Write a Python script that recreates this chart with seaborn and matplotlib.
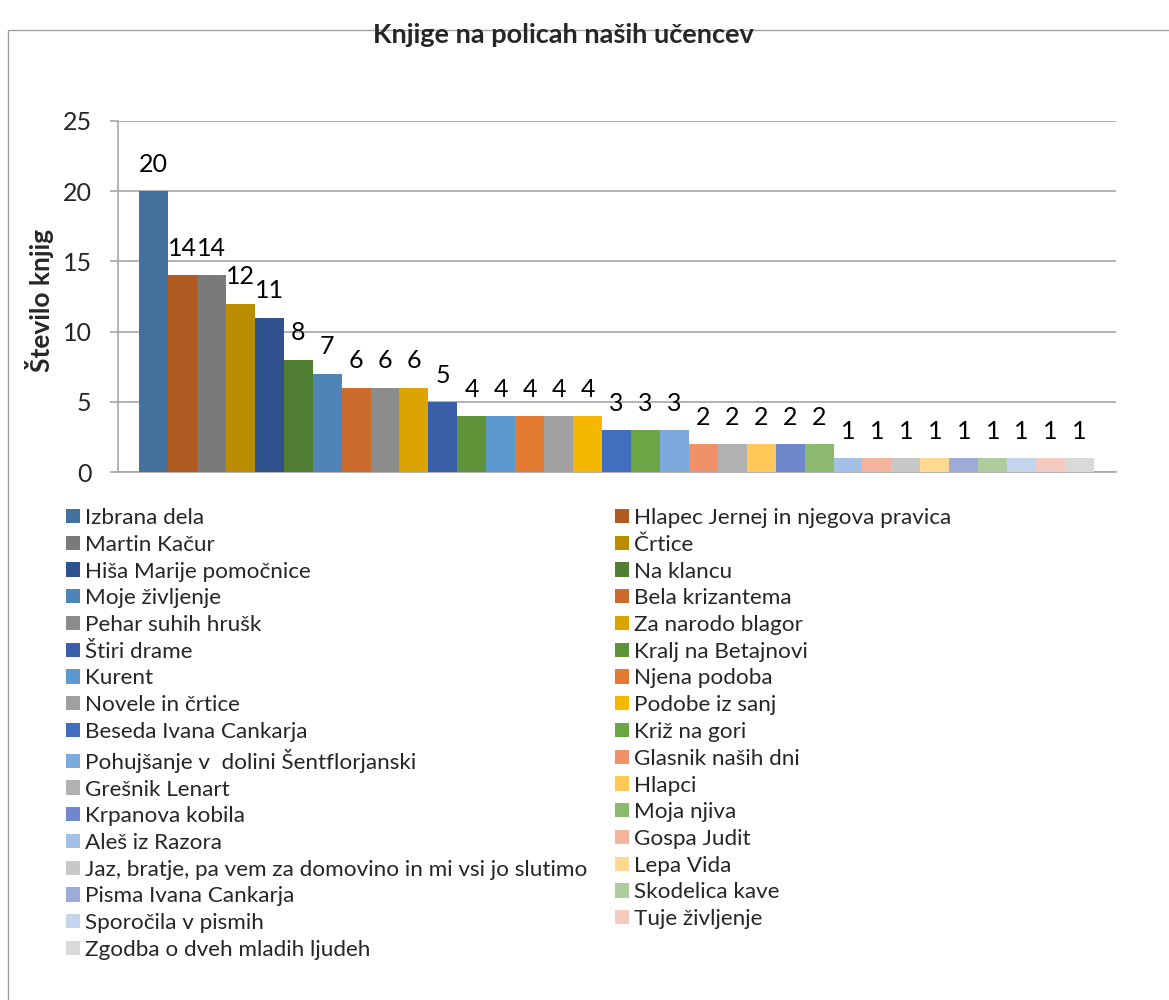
import matplotlib
matplotlib.use('Agg')
import matplotlib.pyplot as plt
import matplotlib.patches as mpatches
import seaborn as sns
import pandas as pd

# Book titles and how many copies our pupils have
books = [
    'Izbrana dela', 'Hlapec Jernej in njegova pravica', 'Martin Kačur', 'Črtice',
    'Hiša Marije pomočnice', 'Na klancu', 'Moje življenje', 'Bela krizantema',
    'Pehar suhih hrušk', 'Za narodo blagor', 'Štiri drame', 'Kralj na Betajnovi',
    'Kurent', 'Njena podoba', 'Novele in črtice', 'Podobe iz sanj',
    'Beseda Ivana Cankarja', 'Križ na gori', 'Pohujšanje v  dolini Šentflorjanski',
    'Glasnik naših dni', 'Grešnik Lenart', 'Hlapci', 'Krpanova kobila', 'Moja njiva',
    'Aleš iz Razora', 'Gospa Judit', 'Jaz, bratje, pa vem za domovino in mi vsi jo slutimo',
    'Lepa Vida', 'Pisma Ivana Cankarja', 'Skodelica kave', 'Sporočila v pismih',
    'Tuje življenje', 'Zgodba o dveh mladih ljudeh',
]
counts = [20, 14, 14, 12, 11, 8, 7, 6, 6, 6, 5, 4, 4, 4, 4, 4, 3, 3, 3,
          2, 2, 2, 2, 2, 1, 1, 1, 1, 1, 1, 1, 1, 1]
colors = [
    '#43719e', '#ae5a21', '#7a7a7a', '#ba8c00', '#2f528f', '#507e32',
    '#4e84b8', '#cb6b2c', '#8c8c8c', '#dba400', '#3a5fa8', '#5e933a',
    '#5b99cf', '#e27a32', '#a0a0a0', '#f4b800', '#416ebf', '#6ba644',
    '#7daadd', '#f0916a', '#b1b1b1', '#ffc858', '#6f88cc', '#8bba6f',
    '#a3c1e6', '#f4b39b', '#c8c8c8', '#ffd891', '#9dabd8', '#adcd9e',
    '#c4d5ee', '#f6cbbf', '#d9d9d9',
]
yticks = [0, 5, 10, 15, 20, 25]

df = pd.DataFrame({'knjiga': books, 'stevilo': counts})

sns.set_style('white')
plt.rcParams['font.family'] = ['Lato', 'DejaVu Sans']

fig = plt.figure(figsize=(11.69, 10), dpi=100)
ax = fig.add_axes([118 / 1169, 0.528, (1116 - 118) / 1169, 0.351])

sns.barplot(data=df, x='knjiga', y='stevilo', hue='knjiga', order=books,
            hue_order=books, palette=colors, saturation=1, width=1,
            legend=False, ax=ax, zorder=3, edgecolor='none', linewidth=0)

for c in ax.containers:
    ax.bar_label(c, padding=11, fontsize=18, color='black')

grid_col = '#a6a6a6'
ax.set_ylim(0, 25)
ax.set_yticks(yticks)
ax.set_xlim(-1.226, 33.26)
ax.set_xticks([])
ax.set_xlabel('')
ax.set_ylabel('')
ax.yaxis.grid(True, color=grid_col, lw=1.2, zorder=0)
ax.set_axisbelow(True)
for s in ['top', 'right']:
    ax.spines[s].set_visible(False)
for s in ['left', 'bottom']:
    ax.spines[s].set_color(grid_col)
    ax.spines[s].set_linewidth(1.2)
ax.tick_params(axis='y', left=True, direction='out', length=6, width=1.2,
               color=grid_col, pad=13, labelsize=18)

fig.text(563 / 1169, 1 - 35 / 1000, 'Knjige na policah naših učencev',
         ha='center', va='center', fontsize=19.5, fontweight='bold')
fig.text(40 / 1169, 1 - 300 / 1000, 'Število knjig', rotation=90,
         ha='center', va='center', fontsize=19, fontweight='bold')

# legend is filled row by row, so split into two columns
handles = [mpatches.Patch(facecolor=col, edgecolor='none') for col in colors]
leg_kw = dict(loc='upper left', frameon=False, fontsize=16.2, borderpad=0,
              borderaxespad=0, handlelength=0.6, handleheight=0.6,
              handletextpad=0.25, labelspacing=0.3,
              bbox_transform=fig.transFigure)
fig.legend(handles[0::2], books[0::2], bbox_to_anchor=(66 / 1169, 1 - 508 / 1000), **leg_kw)
fig.legend(handles[1::2], books[1::2], bbox_to_anchor=(615 / 1169, 1 - 508 / 1000), **leg_kw)

# outer chart border
fig.patches.append(mpatches.Rectangle((8 / 1169, -0.02), 1.1, 1.01 - 0.02 - 10 / 1000 + 0.01,
                                      transform=fig.transFigure, fill=False,
                                      edgecolor='#a0a0a0', lw=1))

fig.savefig('out.png', dpi=100)
